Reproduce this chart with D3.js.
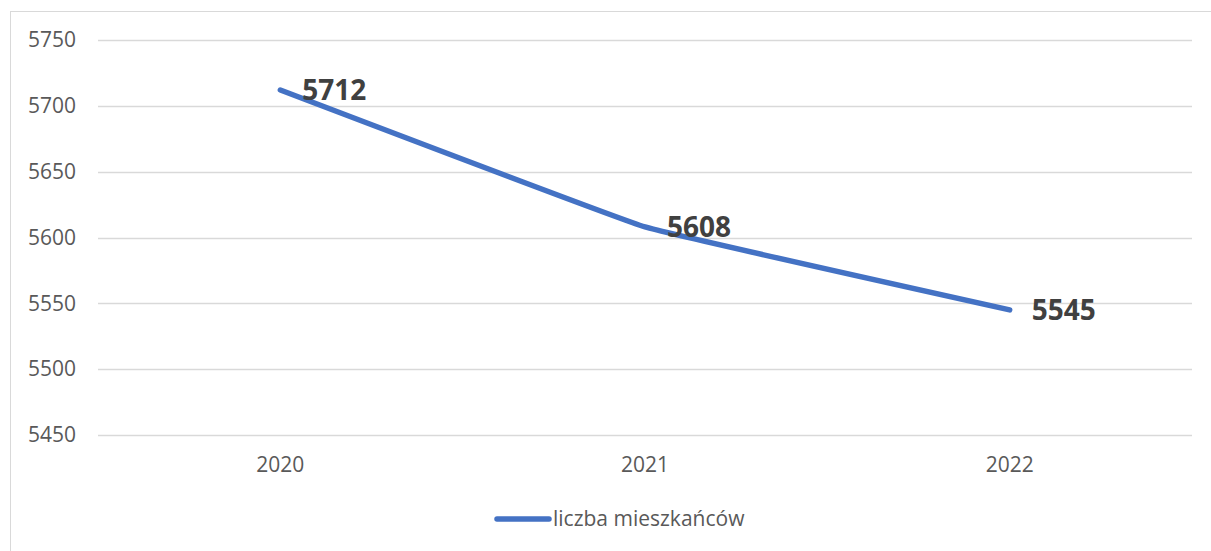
<!DOCTYPE html>
<html>
<head>
<meta charset="utf-8">
<script src="https://cdn.jsdelivr.net/npm/d3@7"></script>
<style>
  body { margin: 0; background: #fff; }
  svg { display: block; font-family: "Open Sans", sans-serif; }
</style>
</head>
<body>
<svg id="chart" width="1211" height="551"></svg>
<script>
const years = ['2020', '2021', '2022']
const residents = [5712, 5608, 5545]
const yTicks = [5450, 5500, 5550, 5600, 5650, 5700, 5750]
const seriesName = 'liczba mieszkańców'

const svg = d3.select('#chart')

// chart frame (only top/left are in view)
svg.append('rect')
  .attr('x', 10.5).attr('y', 11.5)
  .attr('width', 1300).attr('height', 700)
  .attr('fill', 'none')
  .attr('stroke', '#d9d9d9')

const x = d3.scaleBand()
  .domain(years)
  .range([98, 1192])

const y = d3.scaleLinear()
  .domain([5450, 5750])
  .range([435, 40])

// gridlines
svg.append('g')
  .selectAll('line')
  .data(yTicks)
  .enter()
  .append('line')
    .attr('x1', 98).attr('x2', 1192)
    .attr('y1', d => Math.round(y(d)) + 0.5)
    .attr('y2', d => Math.round(y(d)) + 0.5)
    .attr('stroke', '#d9d9d9')
    .attr('stroke-width', 1.3)

// y axis
const yAxis = svg.append('g')
  .attr('transform', 'translate(76,0)')
  .call(d3.axisLeft(y).tickValues(yTicks).tickSize(0).tickPadding(0).tickFormat(d3.format('d')))
yAxis.select('.domain').remove()
yAxis.selectAll('text')
  .attr('font-size', '21px')
  .attr('font-family', '"Open Sans", sans-serif')
  .attr('fill', '#595959')

// x axis
const xAxis = svg.append('g')
  .attr('transform', 'translate(0,457)')
  .call(d3.axisBottom(x).tickSize(0).tickPadding(0))
xAxis.select('.domain').remove()
xAxis.selectAll('text')
  .attr('font-size', '21px')
  .attr('font-family', '"Open Sans", sans-serif')
  .attr('fill', '#595959')

const points = years.map((yr, i) => ({ key: yr, value: residents[i] }))
const cx = d => x(d.key) + x.bandwidth() / 2

const line = d3.line()
  .x(cx)
  .y(d => y(d.value))
  .curve(d3.curveCardinal.tension(0.8))

svg.append('path')
  .datum(points)
  .attr('d', line)
  .attr('fill', 'none')
  .attr('stroke', '#4472c4')
  .attr('stroke-width', 5.5)
  .attr('stroke-linecap', 'round')
  .attr('stroke-linejoin', 'round')

svg.selectAll('.lbl')
  .data(points)
  .enter()
  .append('text')
    .attr('class', 'lbl')
    .attr('x', d => cx(d) + 22)
    .attr('y', d => y(d.value) + 10)
    .attr('font-size', '28px')
    .attr('font-weight', 'bold')
    .attr('fill', '#404040')
    .text(d => d.value)

// legend
svg.append('line')
  .attr('x1', 497).attr('x2', 549)
  .attr('y1', 519).attr('y2', 519)
  .attr('stroke', '#4472c4')
  .attr('stroke-width', 5.5)
  .attr('stroke-linecap', 'round')
svg.append('text')
  .attr('x', 553).attr('y', 526)
  .attr('font-size', '21px')
  .attr('fill', '#595959')
  .text(seriesName)
</script>
</body>
</html>
